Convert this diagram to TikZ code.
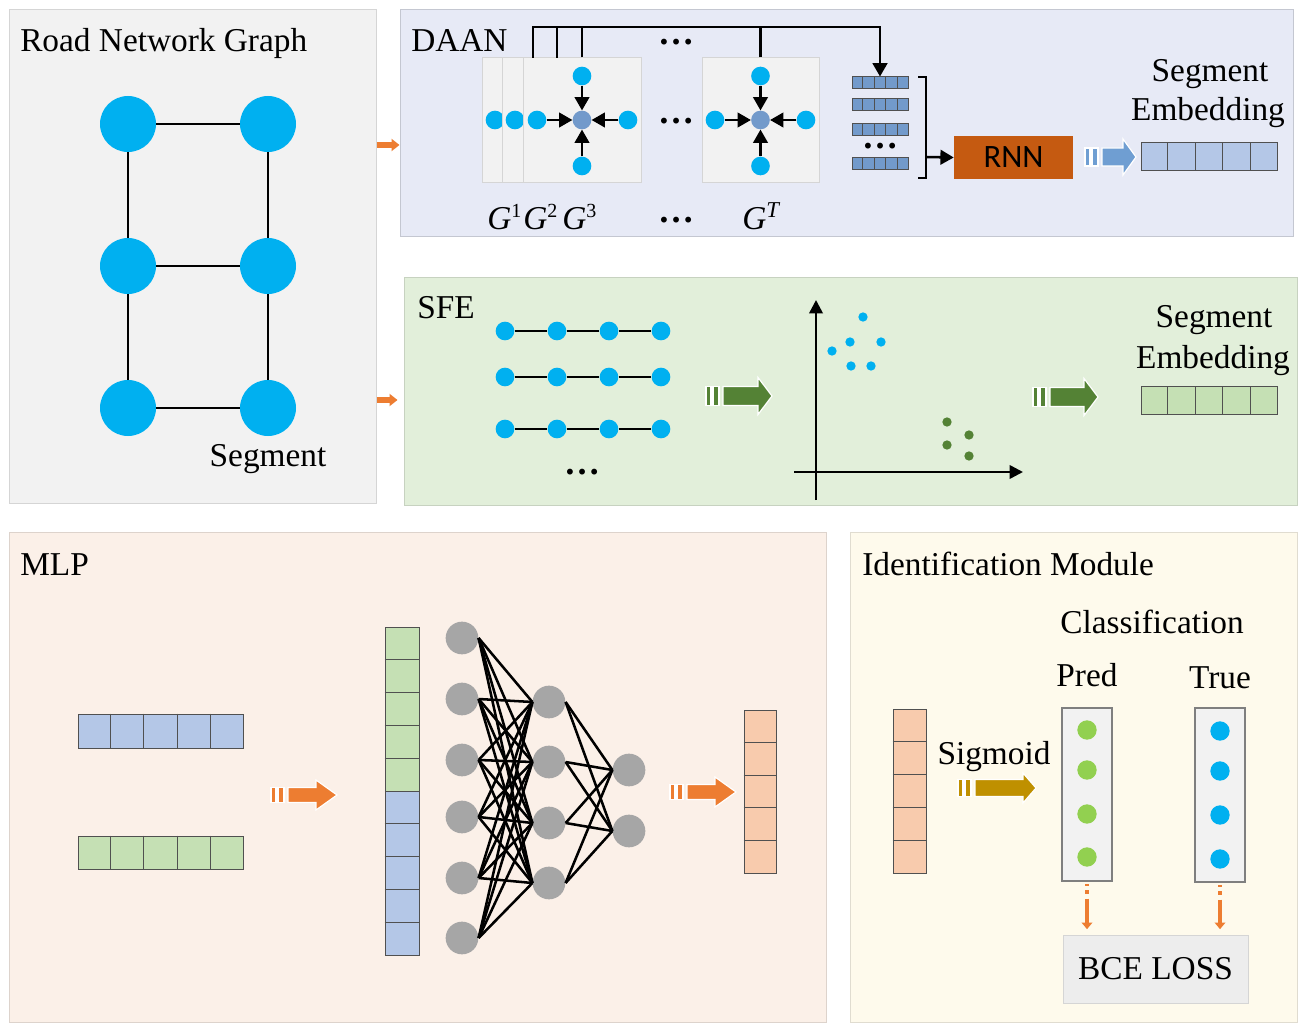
\documentclass[tikz,border=0pt]{standalone}
\usepackage{fontspec}
\setmainfont{Liberation Serif}
\newfontfamily\rnnfont{Carlito}
\usetikzlibrary{arrows.meta,fit,calc}

\definecolor{nodeblue}{HTML}{00B0F0}
\definecolor{centblue}{HTML}{729ACB}
\definecolor{embdark}{HTML}{729ACB}
\definecolor{embblue}{HTML}{B4C7E7}
\definecolor{embgreen}{HTML}{C5E0B4}
\definecolor{embpeach}{HTML}{F8CBAD}
\definecolor{rnnorange}{HTML}{C55A11}
\definecolor{arrblue}{HTML}{6F9ED2}
\definecolor{arrgreen}{HTML}{548235}
\definecolor{arrorange}{HTML}{ED7D31}
\definecolor{arrgold}{HTML}{BF9000}
\definecolor{neurongray}{HTML}{A6A6A6}
\definecolor{predgreen}{HTML}{92D050}
\definecolor{roadfill}{HTML}{F2F2F2}
\definecolor{daanfill}{HTML}{E7EAF6}
\definecolor{sfefill}{HTML}{E2EFDA}
\definecolor{mlpfill}{HTML}{FBF0E8}
\definecolor{idfill}{HTML}{FEFAEC}
\definecolor{panelline}{HTML}{D5D5D5}
\definecolor{celline}{HTML}{505050}
\definecolor{colline}{HTML}{7F7F7F}
\definecolor{bcefill}{HTML}{EDEDED}

% horizontal 5-cell vector: name, x0, y0, x1, y1, fill
\newcommand{\hvec}[6]{%
  \node[vcell, fill=#6, fit={(#2,#3) (#4,#5)}] (#1) {};
  \foreach \k in {1,...,4}
    \draw[cellsep] ($(#1.north west)!\k/5!(#1.north east)$) -- ($(#1.south west)!\k/5!(#1.south east)$);
}
% vertical 5-cell vector
\newcommand{\vvec}[6]{%
  \node[vcell, fill=#6, fit={(#2,#3) (#4,#5)}] (#1) {};
  \foreach \k in {1,...,4}
    \draw[cellsep] ($(#1.north west)!\k/5!(#1.south west)$) -- ($(#1.north east)!\k/5!(#1.south east)$);
}
% striped block arrow: x, y, length, colour, shaft half height, head half height, head length
\newcommand{\sarrow}[7]{%
  \begin{scope}[shift={(#1,#2)}]
    \path[fill=#4, draw=white, line width=0.9pt] (0,-#5) rectangle (5,#5);
    \path[fill=#4, draw=white, line width=0.9pt] (7,-#5) rectangle (13,#5);
    \path[fill=#4, draw=white, line width=0.9pt] (17,-#5) -- (#3-#7,-#5) -- (#3-#7,-#6)
      -- (#3,0) -- (#3-#7,#6) -- (#3-#7,#5) -- (17,#5) -- cycle;
  \end{scope}}

\begin{document}
\begin{tikzpicture}[x=0.75pt, y=-0.75pt,
  font=\fontsize{25}{30}\selectfont,
  panel/.style={draw=panelline, line width=0.75pt, inner sep=0pt},
  bdot/.style={circle, inner sep=0pt, fill=nodeblue, minimum size=42pt},
  sdot/.style={circle, inner sep=0pt, fill=nodeblue, minimum size=14pt},
  pdot/.style={circle, inner sep=0pt, fill=nodeblue, minimum size=7pt},
  roadedge/.style={line width=1.9pt, black},
  conn/.style={line width=1.6pt, black},
  arrtip/.style={-{Triangle[length=10pt,width=11pt]}},
  vcell/.style={draw=celline, line width=0.75pt, inner sep=0pt},
  cellsep/.style={draw=celline, line width=0.75pt},
  gbox/.style={fill=roadfill, draw=panelline, line width=0.75pt, inner sep=0pt},
  neuron/.style={circle, fill=neurongray, minimum size=24.5pt, inner sep=0pt},
  nnline/.style={line width=1.9pt, black},
  ttl/.style={anchor=base west, inner sep=0pt},
  lbl/.style={anchor=base, inner sep=0pt},
  ell/.style={inner sep=0pt, font=\fontsize{27}{30}\selectfont\bfseries},
  smallarr/.style={arrorange, line width=4pt, -{Triangle[length=6pt,width=9pt]}},
  axisline/.style={line width=1.9pt, black, -{Triangle[length=10pt,width=10pt]}},
  colbox/.style={fill=roadfill, draw=colline, line width=1.1pt, inner sep=0pt},
  dashbit/.style={fill=arrorange, draw=none},
  dasharr/.style={arrorange, line width=2.6pt, -{Triangle[length=5pt,width=8pt]}, shorten >=4pt}
]
\useasboundingbox (0,0) rectangle (1299,1023);
\fill[white] (0,0) rectangle (1299,1023);

% ---------- panels ----------
\node[panel, fill=roadfill, fit={(9,10) (376,503)}] (road) {};
\node[panel, fill=daanfill, draw=daanfill!85!black, fit={(400,10) (1293,237)}] (daan) {};
\node[panel, fill=sfefill, draw=sfefill!88!black, fit={(404,278) (1297,505)}] (sfe) {};
\node[panel, fill=mlpfill, draw=mlpfill!88!black, fit={(9,532) (826,1022)}] (mlp) {};
\node[panel, fill=idfill, draw=idfill!88!black, fit={(850,532) (1297,1022)}] (ident) {};

\node[ttl] (troad) at (20,52) {Road Network Graph};
\node[ttl] (tdaan) at (411,52) {DAAN};
\node[ttl] (tsfe) at (417,319) {SFE};
\node[ttl] (tmlp) at (20,575) {MLP};
\node[ttl] (tid) at (862,575) {Identification Module};

% ---------- road network graph ----------
\node[bdot] (r11) at (128,124) {};
\node[bdot] (r12) at (268,124) {};
\node[bdot] (r21) at (128,266) {};
\node[bdot] (r22) at (268,266) {};
\node[bdot] (r31) at (128,408) {};
\node[bdot] (r32) at (268,408) {};
\draw[roadedge] (r11) -- (r12);
\draw[roadedge] (r21) -- (r22);
\draw[roadedge] (r31) -- (r32);
\draw[roadedge] (r11) -- (r21);
\draw[roadedge] (r21) -- (r31);
\draw[roadedge] (r12) -- (r22);
\draw[roadedge] (r22) -- (r32);
\node[lbl] (tseg) at (268,466) {Segment};

\coordinate (ya) at (0,145);
\coordinate (yb) at (0,400);
\draw[smallarr] (road.east |- ya) -- (daan.west |- ya);
\draw[smallarr, shorten >=4.5pt] (road.east |- yb) -- (sfe.west |- yb);

% ---------- DAAN ----------
\node[gbox, fit={(482,58) (601,183)}] (g1) {};
\node[sdot] (g1l) at (495,120) {};
\node[gbox, fit={(502,58) (621,183)}] (g2) {};
\node[sdot] (g2l) at (515,120) {};
\node[gbox, fit={(523,58) (641,183)}] (g3) {};
\node[sdot, fill=centblue] (c3) at (582,120) {};
\node[sdot] (t3) at (582,76) {};
\node[sdot] (b3) at (582,166) {};
\node[sdot] (l3) at (537,120) {};
\node[sdot] (rr3) at (628,120) {};
\draw[conn, arrtip] (t3) -- (c3);
\draw[conn, arrtip] (b3) -- (c3);
\draw[conn, arrtip] (l3) -- (c3);
\draw[conn, arrtip] (rr3) -- (c3);

\node[gbox, fit={(702,58) (819,183)}] (gT) {};
\node[sdot, fill=centblue] (cT) at (760.5,120) {};
\node[sdot] (tT) at (760.5,76) {};
\node[sdot] (bT) at (760.5,166) {};
\node[sdot] (lT) at (715,120) {};
\node[sdot] (rT) at (806,120) {};
\draw[conn, arrtip] (tT) -- (cT);
\draw[conn, arrtip] (bT) -- (cT);
\draw[conn, arrtip] (lT) -- (cT);
\draw[conn, arrtip] (rT) -- (cT);

\node[ell] (dmid) at (676,121) {…};
\node[ell] (dtop) at (676,42) {…};
\node[ell] (dbot) at (676,220) {…};

\node[anchor=base west, inner sep=0pt] (lg1) at (487,230) {\textit{G}\textsuperscript{\fontsize{15}{15}\selectfont 1}};
\node[anchor=base west, inner sep=0pt] (lg2) at (523,230) {\textit{G}\textsuperscript{\fontsize{15}{15}\selectfont 2}};
\node[anchor=base west, inner sep=0pt] (lg3) at (562,230) {\textit{G}\textsuperscript{\fontsize{15}{15}\selectfont 3}};
\node[anchor=base west, inner sep=0pt] (lgT) at (742,230) {\textit{G}\textsuperscript{\fontsize{17}{17}\selectfont\textit{T}}};

% embedding stack
\hvec{emb1}{852}{77}{908}{89}{embdark}
\hvec{emb2}{852}{99}{908}{111}{embdark}
\hvec{emb3}{852}{124}{908}{136}{embdark}
\hvec{emb5}{852}{158}{908}{170}{embdark}
\node[ell] (dstack) at (880,146) {…};

\coordinate (k1) at (533,58);
\coordinate (k2) at (557,58);
\coordinate (top1) at (533,27);
\draw[conn, line width=1.9pt, arrtip] (k1) -- (top1) -| (emb1.north);
\draw[conn, line width=1.9pt] (k2) -- (557,27);
\draw[conn, line width=1.9pt] (g3.north) -- (582,27);
\draw[conn, line width=1.9pt] (gT.north) -- (760.5,27);

\draw[conn, line width=1.9pt] (918,77) -- (926,77) -- (926,178) -- (918,178);
\coordinate (brk) at (926,157);
\node[fill=rnnorange, minimum width=89.25pt, minimum height=32.25pt, inner sep=0pt,
      font=\rnnfont\fontsize{24.5}{28}\selectfont] (rnn) at (1013.5,157.5) {RNN};
\draw[conn, line width=1.9pt, arrtip] (brk) -- (rnn.west);

\sarrow{1085}{157}{51}{arrblue}{9}{18}{13}
\node[lbl] (tsegA) at (1210,82) {Segment};
\node[lbl] (tembA) at (1208,121) {Embedding};
\hvec{segembA}{1141}{143}{1277}{171}{embblue}

% ---------- SFE ----------
\foreach \r/\yy in {1/331, 2/377, 3/429} {
  \foreach \c/\xx in {1/505, 2/557, 3/609, 4/661}
    \node[sdot] (s\r\c) at (\xx,\yy) {};
  \draw[conn] (s\r1) -- (s\r2);
  \draw[conn] (s\r2) -- (s\r3);
  \draw[conn] (s\r3) -- (s\r4);
}
\node[ell] (dsfe) at (582,472) {…};

\sarrow{706}{396}{66}{arrgreen}{9.5}{18.5}{14}

\coordinate (yb0) at (816,500);
\coordinate (yb1) at (816,300);
\coordinate (xb0) at (794,472);
\coordinate (xb1) at (1023,472);
\draw[axisline] (yb0) -- (yb1);
\draw[axisline] (xb0) -- (xb1);

\node[pdot] (p1) at (832,351) {};
\node[pdot] (p2) at (863,317) {};
\node[pdot] (p3) at (850,342) {};
\node[pdot] (p4) at (881,342) {};
\node[pdot] (p5) at (851,366) {};
\node[pdot] (p6) at (871,366) {};
\node[pdot, fill=arrgreen] (q1) at (947,422) {};
\node[pdot, fill=arrgreen] (q2) at (969,435) {};
\node[pdot, fill=arrgreen] (q3) at (947,445) {};
\node[pdot, fill=arrgreen] (q4) at (969,456) {};

\sarrow{1033}{397}{65}{arrgreen}{9.5}{18.5}{14}
\node[lbl] (tsegB) at (1214,328) {Segment};
\node[lbl] (tembB) at (1213,369) {Embedding};
\hvec{segembB}{1141}{387}{1277}{414}{embgreen}

% ---------- MLP ----------
\hvec{in1}{78}{714}{243}{748}{embblue}
\hvec{in2}{78}{836}{243}{869}{embgreen}
\sarrow{271}{795}{66}{arrorange}{7.5}{15}{21}

\vvec{cat1}{385}{627}{419}{791}{embgreen}
\vvec{cat2}{385}{791}{419}{955}{embblue}

\foreach \i/\yy in {1/638, 2/699, 3/760, 4/817, 5/878, 6/938}
  \node[neuron] (a\i) at (462,\yy) {};
\foreach \j/\yy in {1/702, 2/762, 3/823, 4/883}
  \node[neuron] (b\j) at (549,\yy) {};
\foreach \k/\yy in {1/770, 2/831}
  \node[neuron] (o\k) at (629,\yy) {};
\foreach \i in {1,...,6}
  \foreach \j in {1,...,4}
    \draw[nnline] (a\i.east) -- (b\j.west);
\foreach \j in {1,...,4}
  \foreach \k in {1,2}
    \draw[nnline] (b\j.east) -- (o\k.west);

\sarrow{670}{792}{66}{arrorange}{7.5}{15}{21}
\vvec{outv}{744}{710}{776}{873}{embpeach}

% ---------- Identification module ----------
\node[lbl] (tcls) at (1152,633) {Classification};
\node[lbl] (tpred) at (1087,686) {Pred};
\node[lbl] (ttrue) at (1220,688) {True};

\vvec{idin}{893}{709}{926}{873}{embpeach}
\node[lbl] (tsig) at (994,764) {Sigmoid};
\sarrow{958}{788}{78}{arrgold}{8.5}{15}{13}

\node[colbox, fit={(1062,708) (1112,881)}] (pred) {};
\node[colbox, fit={(1195,708) (1245,882)}] (true) {};
\foreach \n/\yy in {1/730, 2/770, 3/814, 4/857}
  \node[sdot, fill=predgreen, minimum size=14.5pt] (pg\n) at (1087,\yy) {};
\foreach \n/\yy in {1/731, 2/771, 3/815, 4/859}
  \node[sdot, minimum size=14.5pt] (tb\n) at (1220,\yy) {};

\node[fill=bcefill, draw=panelline, line width=0.75pt, minimum width=138.75pt, minimum height=51pt, inner sep=0pt] (bce) at (1155.5,969) {BCE LOSS};

% dashed orange arrows into BCE LOSS
\foreach \bx in {pred, true} {
  \fill[dashbit] ($(\bx.south)+(-1.8,2)$) rectangle ($(\bx.south)+(1.8,4)$);
  \fill[dashbit] ($(\bx.south)+(-1.8,8)$) rectangle ($(\bx.south)+(1.8,12)$);
  \draw[dasharr] ($(\bx.south)+(0,17)$) -- (\bx.south |- bce.north);
}
\end{tikzpicture}
\end{document}
